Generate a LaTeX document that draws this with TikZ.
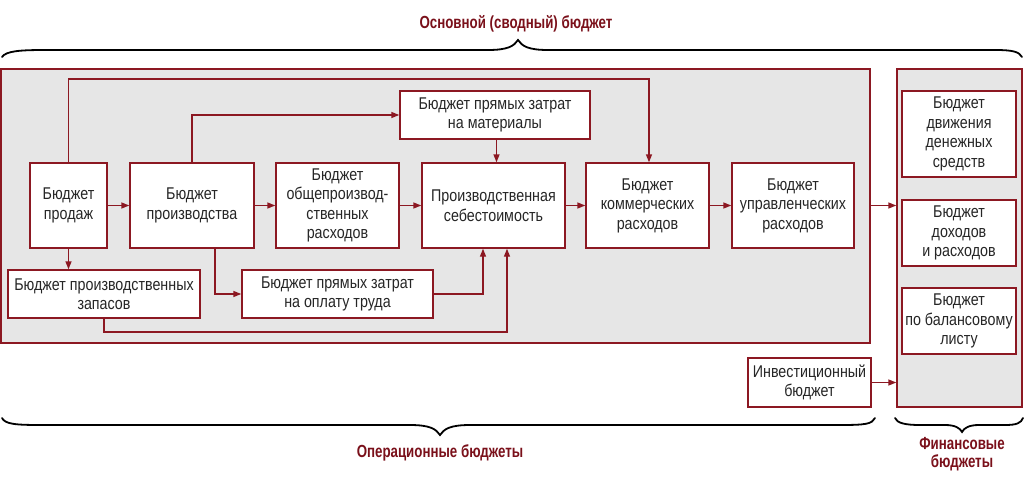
\documentclass[tikz,border=0pt]{standalone}
\usepackage{fontspec}
\setmainfont[FakeStretch=0.84]{Liberation Sans}
\newfontfamily\titlefont[FakeStretch=0.76]{Liberation Sans}
\usetikzlibrary{arrows.meta}
\definecolor{bred}{RGB}{140,24,34}
\definecolor{tred}{RGB}{122,16,26}
\definecolor{panel}{RGB}{230,230,230}
\definecolor{txt}{RGB}{38,38,38}
\tikzset{
  box/.style={draw=bred, line width=1.4pt, fill=white, align=center, inner sep=0pt,
    text=txt, font=\fontsize{17}{19.5}\selectfont},
  panelbox/.style={draw=bred, line width=1.4pt, fill=panel, inner sep=0pt},
  arr/.style={draw=bred, line width=1.4pt, -{Triangle[length=8pt,width=6pt]}},
  brace/.style={draw=black, line width=1.8pt, line cap=round},
  ttl/.style={text=tred, font=\titlefont\bfseries\fontsize{17.5}{18.5}\selectfont, align=center}
}
\begin{document}
\begin{tikzpicture}[x=1pt,y=-1pt]
\useasboundingbox (0,0) rectangle (1026,482);
% panels
\node[panelbox, minimum width=869pt, minimum height=274pt] (main) at (435.5,206) {};
\node[panelbox, minimum width=125pt, minimum height=338pt] (fin) at (959.5,238) {};
% boxes
\node[box, minimum width=77pt, minimum height=85pt] (sales) at (68.5,205.5) {Бюджет\\продаж};
\node[box, minimum width=124pt, minimum height=85pt] (prod) at (192,205.5) {Бюджет\\производства};
\node[box, minimum width=123pt, minimum height=85pt] (ohp) at (337.5,205.5) {Бюджет\\общепроизвод-\\ственных\\расходов};
\node[box, minimum width=143pt, minimum height=85pt] (cost) at (493.5,205.5) {Производственная\\себестоимость};
\node[box, minimum width=123pt, minimum height=85pt] (comm) at (647.5,205.5) {Бюджет\\коммерческих\\расходов};
\node[box, minimum width=122pt, minimum height=85pt] (adm) at (793,205.5) {Бюджет\\управленческих\\расходов};
\node[box, minimum width=192pt, minimum height=48pt] (stock) at (104,294) {Бюджет производственных\\запасов};
\node[box, minimum width=191pt, minimum height=48pt] (labor) at (337.5,294) {Бюджет прямых затрат\\на оплату труда};
\node[box, minimum width=190pt, minimum height=48pt] (mat) at (495,115) {Бюджет прямых затрат\\на материалы};
\node[box, minimum width=114pt, minimum height=86pt] (cash) at (959,134) {Бюджет\\движения\\денежных\\средств};
\node[box, minimum width=114pt, minimum height=66pt] (pl) at (959,233) {Бюджет\\доходов\\и расходов};
\node[box, minimum width=114pt, minimum height=66pt] (bs) at (959,321) {Бюджет\\по балансовому\\листу};
\node[box, minimum width=123pt, minimum height=49pt] (inv) at (809.5,382.5) {Инвестиционный\\бюджет};
% connectors
\draw[arr] (sales.north) -- (68.5,79) -| ([xshift=1.5pt]comm.north);
\draw[arr] (prod.north) |- (mat.west);
\draw[arr] ([xshift=1.5pt]mat.south) -- ([xshift=1.5pt]mat.south |- cost.north);
\draw[arr] (sales.east) -- (prod.west);
\draw[arr] (prod.east) -- (ohp.west);
\draw[arr] (ohp.east) -- (cost.west);
\draw[arr] (cost.east) -- (comm.west);
\draw[arr] (comm.east) -- (adm.west);
\draw[arr] (main.east |- sales.east) -- (fin.west |- sales.east);
\draw[arr] (sales.south) -- (sales.south |- stock.north);
\draw[arr] ([xshift=23pt]prod.south) |- (labor.west);
\draw[arr] (labor.east) -| ([xshift=-10.5pt]cost.south);
\draw[arr] (stock.south) -- (104,332) -| ([xshift=13.5pt]cost.south);
\draw[arr] (inv.east) -- (fin.west |- inv.east);
% braces
\draw[brace] (2,57) .. controls (6,51) and (20,50) .. (45,50) -- (488,50)
  .. controls (508,50) and (514,46) .. (518,40) .. controls (522,46) and (528,50) .. (548,50)
  -- (995,50) .. controls (1014,50) and (1019,52) .. (1022,57);
\draw[brace] (2,418) .. controls (5,424) and (15,425) .. (40,425) -- (410,425)
  .. controls (430,425) and (436,429) .. (440,435) .. controls (444,429) and (450,425) .. (470,425)
  -- (840,425) .. controls (866,425) and (872,424) .. (875,418);
\draw[brace] (895,418) .. controls (897,423) and (905,425) .. (920,425) -- (945,425)
  .. controls (955,425) and (960,428) .. (962,432) .. controls (964,428) and (969,425) .. (979,425)
  -- (1005,425) .. controls (1017,425) and (1021,423) .. (1023,418);
% titles
\node[ttl] (t1) at (516,24) {Основной (сводный) бюджет};
\node[ttl] (t2) at (440,453) {Операционные бюджеты};
\node[ttl] (t3) at (962,454) {Финансовые\\бюджеты};
\end{tikzpicture}
\end{document}
